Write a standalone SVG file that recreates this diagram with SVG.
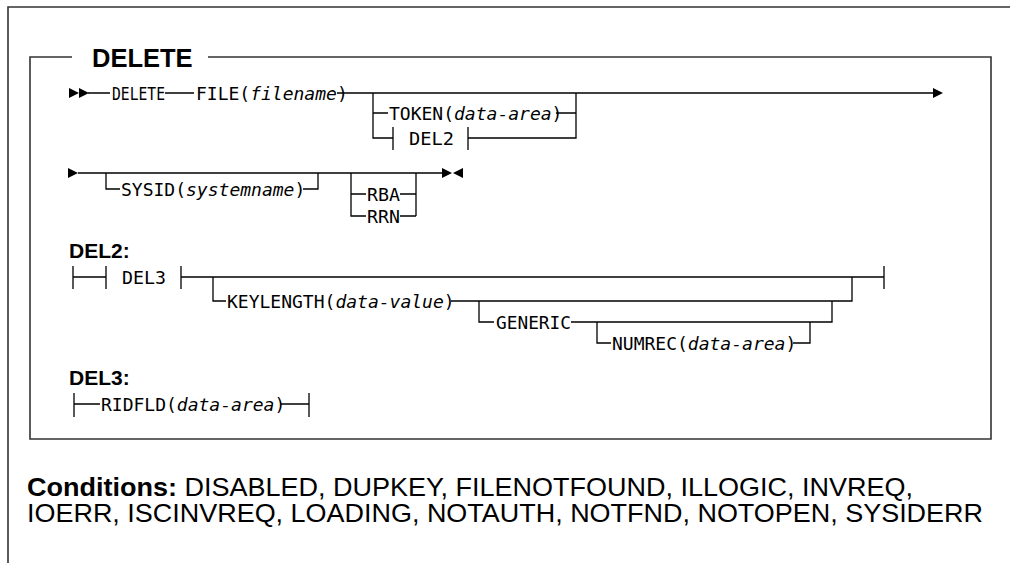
<svg xmlns="http://www.w3.org/2000/svg" width="1010" height="563" viewBox="0 0 1010 563">
<style>
.frame{stroke:#333;stroke-width:1.6;fill:none}
.ln{stroke:#000;stroke-width:1.3;fill:none}
.mono{font-family:"DejaVu Sans Mono",monospace;font-size:18px;fill:#000}
.it{font-style:italic}
.lbl{font-family:"Liberation Sans",Arial,sans-serif;font-weight:bold;fill:#000}
.cond{font-family:"Liberation Sans",Arial,sans-serif;font-size:25px;fill:#000}
.ah{fill:#000}
</style>
<defs>
<polygon id="arrR" points="0,-5 10,0 0,5"/>
<polygon id="arrL" points="10,-5 0,0 10,5"/>
</defs>
<g id="frame">
<path class="frame" d="M1010,7 H8 V563"/>
<path class="frame" d="M72,57 H30 V439 H991 V57 H208"/>
<text class="lbl" x="92" y="67" font-size="25.5px">DELETE</text>
</g>
<g id="connectors">
<g class="ah">
<use href="#arrR" x="69" y="93"/>
<use href="#arrR" x="79" y="93"/>
<use href="#arrR" x="933" y="93"/>
<use href="#arrR" x="68" y="173"/>
<use href="#arrR" x="442" y="173"/>
<use href="#arrL" x="453" y="173"/>
</g>
<path class="ln" d="M88,93 H110 M165,93 H194 M337,93 H933 M373,93 V138 H393 M373,113 H388 M556,113 H576 M576,93 V138 H468 M393,127 V150 M468,127 V150"/>
<path class="ln" d="M78,173 H442 M106,173 V189 H120 M303,189 H318 V173 M351,173 V216 H366 M351,194 H366 M400,194 H416 M400,216 H416 M416,173 V216"/>
<path class="ln" d="M73,266 V289 M73,277 H106 M106,266 V289 M181,266 V289 M181,277 H884 M884,266 V289 M213,277 V301 H226 M451,301 H852 V277 M479,301 V322 H494 M571,322 H832 V301 M597,322 V343 H611 M793,343 H810 V322"/>
<path class="ln" d="M74,393 V417 M74,404 H100 M281,404 H309 M309,393 V417"/>
</g>
<g id="n-delete"><text class="mono" x="112" y="100" textLength="53" lengthAdjust="spacingAndGlyphs">DELETE</text></g>
<g id="n-file"><text class="mono" x="196" y="100" font-size="16.5px">FILE(<tspan class="it">filename</tspan>)</text></g>
<g id="n-token"><text class="mono" x="389" y="120" font-size="17.2px">TOKEN(<tspan class="it">data-area</tspan>)</text></g>
<g id="n-del2ref"><text class="mono" x="409" y="145" textLength="45" lengthAdjust="spacingAndGlyphs">DEL2</text></g>
<g id="n-sysid"><text class="mono" x="121" y="196" font-size="17.7px">SYSID(<tspan class="it">systemname</tspan>)</text></g>
<g id="n-rba"><text class="mono" x="367" y="201" textLength="33" lengthAdjust="spacingAndGlyphs">RBA</text></g>
<g id="n-rrn"><text class="mono" x="367" y="223" textLength="33" lengthAdjust="spacingAndGlyphs">RRN</text></g>
<g id="l-del2"><text class="lbl" x="69" y="258" font-size="21px">DEL2:</text></g>
<g id="n-del3ref"><text class="mono" x="122" y="284" textLength="44" lengthAdjust="spacingAndGlyphs">DEL3</text></g>
<g id="n-keylength"><text class="mono" x="227" y="308" font-size="17.6px">KEYLENGTH(<tspan class="it">data-value</tspan>)</text></g>
<g id="n-generic"><text class="mono" x="496" y="329" textLength="75" lengthAdjust="spacingAndGlyphs">GENERIC</text></g>
<g id="n-numrec"><text class="mono" x="612" y="350" font-size="17.6px">NUMREC(<tspan class="it">data-area</tspan>)</text></g>
<g id="l-del3"><text class="lbl" x="69" y="385" font-size="21px">DEL3:</text></g>
<g id="n-ridfld"><text class="mono" x="101" y="411" font-size="17.5px">RIDFLD(<tspan class="it">data-area</tspan>)</text></g>
<g id="conditions">
<text class="cond" x="27" y="496" textLength="886" lengthAdjust="spacingAndGlyphs"><tspan font-weight="bold">Conditions:</tspan> DISABLED, DUPKEY, FILENOTFOUND, ILLOGIC, INVREQ,</text>
<text class="cond" x="27" y="522" textLength="956" lengthAdjust="spacingAndGlyphs">IOERR, ISCINVREQ, LOADING, NOTAUTH, NOTFND, NOTOPEN, SYSIDERR</text>
</g>
</svg>
